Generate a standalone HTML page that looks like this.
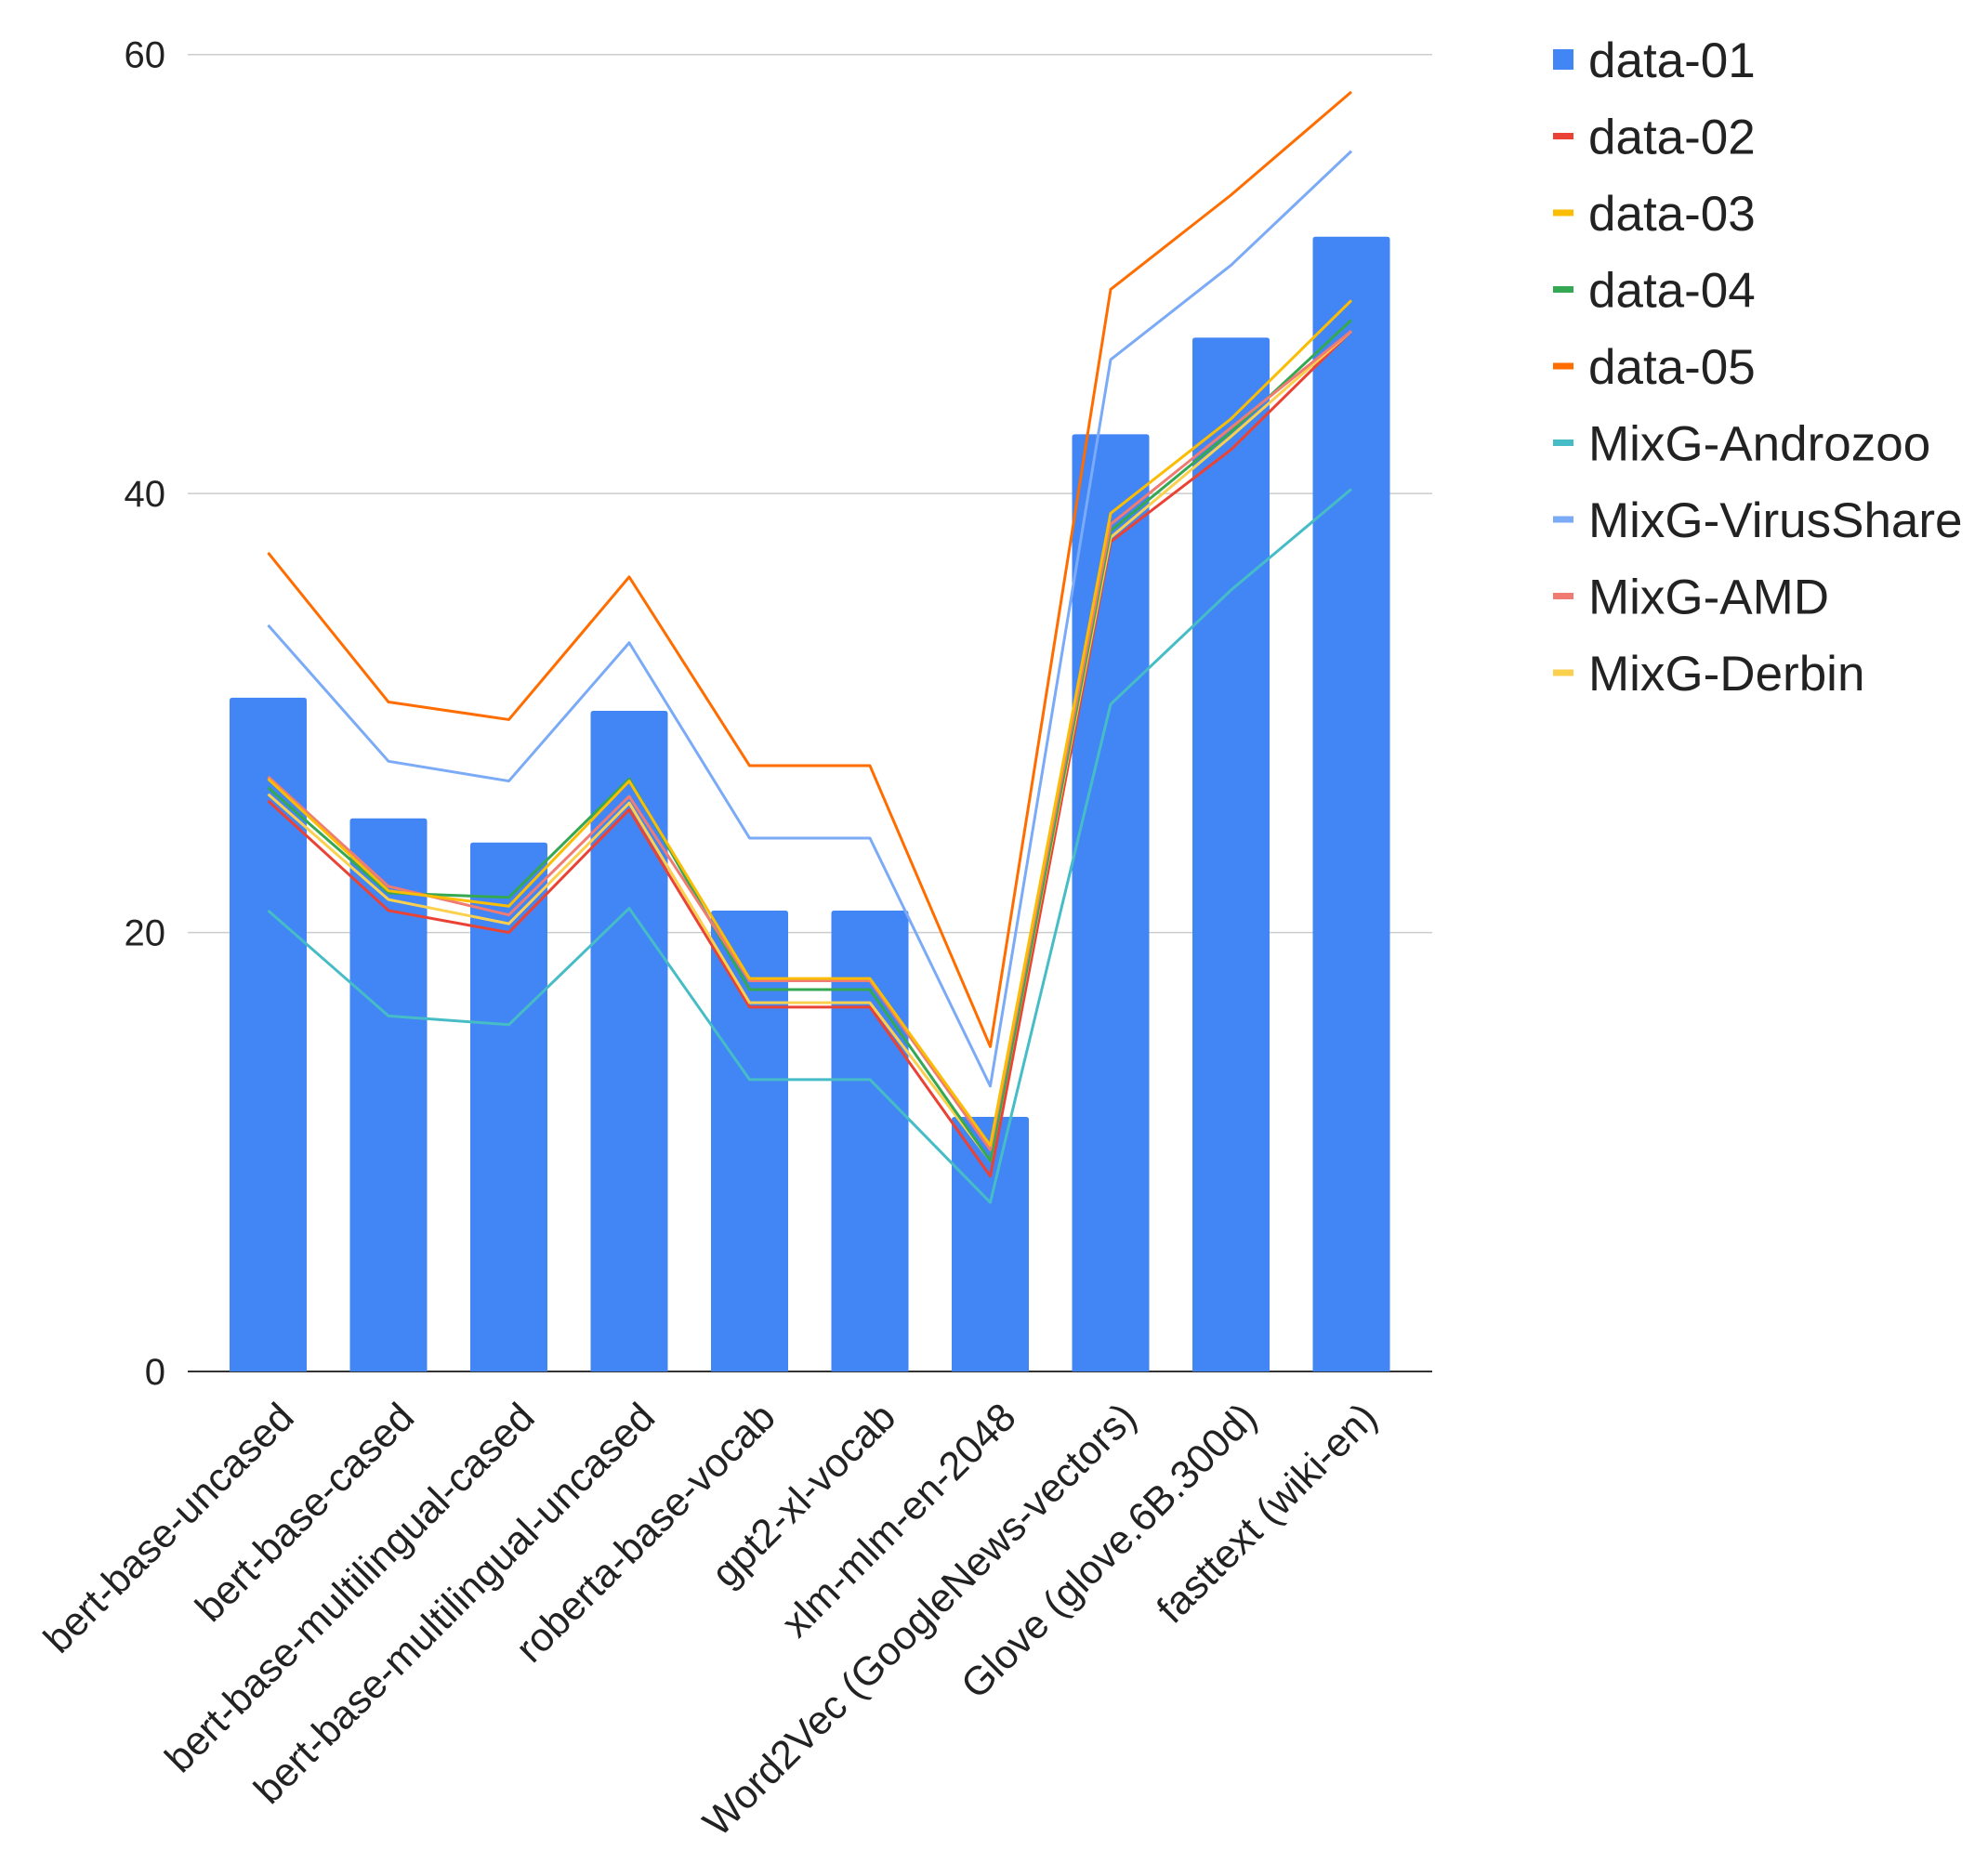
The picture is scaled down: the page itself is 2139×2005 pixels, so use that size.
<!DOCTYPE html>
<html><head><meta charset="utf-8"><style>
html,body{margin:0;padding:0;background:#fff;}
svg{display:block;font-family:"Liberation Sans",Arial,sans-serif;}
</style></head><body>
<svg id="chart" width="2139" height="2005" viewBox="0 0 2139 2005" xmlns="http://www.w3.org/2000/svg">
<rect width="2139" height="2005" fill="#fff"/>
<g id="grid"></g><g id="bars"></g><g id="lines"></g><g id="xlabels"></g><g id="legend"></g>
</svg>
<script>
const categories = ["bert-base-uncased","bert-base-cased","bert-base-multilingual-cased","bert-base-multilingual-uncased","roberta-base-vocab","gpt2-xl-vocab","xlm-mlm-en-2048","Word2Vec (GoogleNews-vectors)","Glove (glove.6B.300d)","fasttext (wiki-en)"];
const yTicks = [0,20,40,60];
const data01 = [30.7,25.2,24.1,30.1,21.0,21.0,11.6,42.7,47.1,51.7];
const data02 = [26.0,21.0,20.0,25.6,16.6,16.6,8.9,37.8,42.0,47.4];
const data03 = [27.0,21.9,21.2,26.9,17.9,17.9,10.3,39.1,43.4,48.8];
const data04 = [26.6,21.8,21.6,27.0,17.4,17.4,9.6,38.3,42.8,47.9];
const data05 = [37.3,30.5,29.7,36.2,27.6,27.6,14.8,49.3,53.6,58.3];
const androzoo = [21.0,16.2,15.8,21.1,13.3,13.3,7.7,30.4,35.6,40.2];
const virusShare = [34.0,27.8,26.9,33.2,24.3,24.3,13.0,46.1,50.4,55.6];
const amd = [27.1,22.1,20.8,26.2,17.8,17.8,10.1,38.6,43.0,47.4];
const derbin = [26.3,21.5,20.4,25.9,16.8,16.8,9.6,38.0,42.6,47.4];

const NS="http://www.w3.org/2000/svg";
const X0=288.5, STEP=129.5, Y0=1476, PXU=(1476-58.7)/60;
const xPos=i=>X0+i*STEP;
const yPos=v=>Y0-v*PXU;
function mk(tag,attrs,parent){const e=document.createElementNS(NS,tag);for(const k in attrs)e.setAttribute(k,attrs[k]);parent.appendChild(e);return e;}
const grid=document.getElementById('grid');
yTicks.forEach(t=>{
  const l=mk('line',{x1:202,x2:1541,y1:yPos(t),y2:yPos(t),stroke:t===0?'#333':'#ccc','stroke-width':t===0?2:1.5},grid);
  
  
  const tx=mk('text',{x:178,y:yPos(t)+14,'text-anchor':'end','font-size':40,fill:'#222'},grid);
  tx.textContent=t;
  
  
});
const bars=document.getElementById('bars');
data01.forEach((v,i)=>{
  const r=mk('path',{d:`M${xPos(i)-41.5},${Y0} V${yPos(v)+3} Q${xPos(i)-41.5},${yPos(v)} ${xPos(i)-38.5},${yPos(v)} H${xPos(i)+38.5} Q${xPos(i)+41.5},${yPos(v)} ${xPos(i)+41.5},${yPos(v)+3} V${Y0} Z`,fill:'#4285f4'},bars);
  
  
});
const series=[
 {name:'data-05',vals:data05,c:'#ff6d01'},
 {name:'MixG-VirusShare',vals:virusShare,c:'#7baaf7'},
 {name:'MixG-Androzoo',vals:androzoo,c:'#46bdc6'},
 {name:'data-02',vals:data02,c:'#ea4335'},
 {name:'MixG-Derbin',vals:derbin,c:'#fcd04f'},
 {name:'data-04',vals:data04,c:'#34a853'},
 {name:'MixG-AMD',vals:amd,c:'#f07b72'},
 {name:'data-03',vals:data03,c:'#fbbc04'}
];
const lines=document.getElementById('lines');
series.forEach(s=>{
  const p=mk('polyline',{points:s.vals.map((v,i)=>xPos(i)+','+yPos(v)).join(' '),fill:'none',stroke:s.c,'stroke-width':3,'stroke-linejoin':'round'},lines);
  
  
});
const xl=document.getElementById('xlabels');
categories.forEach((c,i)=>{
  const t=mk('text',{transform:`translate(${xPos(i)+30},1528) rotate(-45)`,'text-anchor':'end','font-size':43,fill:'#222'},xl);
  t.textContent=c;
  
  
});
const legendItems=[['data-01','#4285f4',true],['data-02','#ea4335'],['data-03','#fbbc04'],['data-04','#34a853'],['data-05','#ff6d01'],['MixG-Androzoo','#46bdc6'],['MixG-VirusShare','#7baaf7'],['MixG-AMD','#f07b72'],['MixG-Derbin','#fcd04f']];
const lg=document.getElementById('legend');
legendItems.forEach((it,i)=>{
  const cy=64+i*82.5;
  const g=mk('g',{},lg);
  
  
  if(it[2]) mk('rect',{x:1671,y:cy-11,width:22,height:22,fill:it[1]},g);
  else mk('rect',{x:1671,y:cy-3.5,width:22,height:7,fill:it[1]},g);
  const t=mk('text',{x:1709,y:cy+19,'font-size':53,fill:'#222'},g);
  t.textContent=it[0];
});
</script>
</body></html>
